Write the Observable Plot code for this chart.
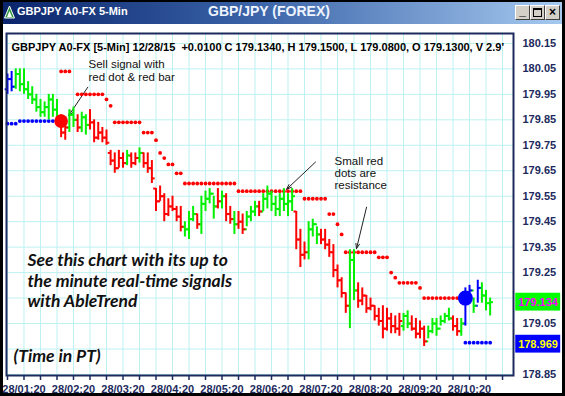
<!DOCTYPE html>
<html>
<head>
<meta charset="utf-8">
<script src="https://cdn.jsdelivr.net/npm/d3@7"></script>
<script src="https://cdn.jsdelivr.net/npm/@observablehq/plot@0.6"></script>
<style>
  html, body { margin: 0; padding: 0; background: #fff; }
  #win { position: relative; width: 565px; height: 396px; overflow: hidden; background: #fff; font-family: Arial, "Liberation Sans", sans-serif; }
  #chart { position: absolute; left: 0; top: 0; }
  #titlebar { position: absolute; left: 0; top: 0; width: 565px; height: 24px; background: linear-gradient(to right, #0a246a 0%, #3a63a8 45%, #a6caf0 100%); }
  #titlebar .t1 { position: absolute; left: 17px; top: 5px; color: #fff; font: bold 11px Arial, "Liberation Sans", sans-serif; white-space: nowrap; }
  #titlebar .t2 { position: absolute; left: 208px; top: 3px; color: #eef4ff; font: bold 14px Arial, "Liberation Sans", sans-serif; white-space: nowrap; }
  #titlebar .btn { position: absolute; top: 5px; width: 15px; height: 15px; background: #d4d0c8; border-top: 1px solid #fff; border-left: 1px solid #fff; border-right: 1px solid #404040; border-bottom: 1px solid #404040; box-sizing: border-box; color: #000; font: bold 12px Arial, "Liberation Sans", sans-serif; text-align: center; line-height: 12px; }
  #border { position: absolute; left: 0; top: 0; width: 565px; height: 396px; border: 3px solid #000; border-top-width: 2px; box-sizing: border-box; pointer-events: none; }
</style>
</head>
<body>
<div id="win">
  <div id="chart"></div>
  <div id="titlebar">
    <svg style="position:absolute;left:4px;top:5px" width="11" height="14"><polygon points="5.5,1 10.5,13 0.5,13" fill="#2e9a3a" stroke="#fff" stroke-width="1"/><polygon points="5.5,6 8,12 3,12" fill="#fff"/></svg>
    <div class="t1">GBPJPY A0-FX 5-Min</div>
    <div class="t2">GBP/JPY (FOREX)</div>
    <div class="btn" style="left:515px;line-height:10px">_</div>
    <div class="btn" style="left:530px"><div style="width:7px;height:6px;border:1px solid #000;border-top-width:2px;margin:2px auto 0"></div></div>
    <div class="btn" style="left:545px">×</div>
  </div>
  <div id="border"></div>
</div>
<script>
// ---- data ----
const startMinute = 60;      // 28/01:00, 5-minute bars
const barMinutes = 5;
const high = [180.03,180.04,180.05,180.05,180.05,180.00,179.98,179.95,179.93,179.92,179.95,179.95,179.93,179.87,179.85,179.89,179.90,179.87,179.88,179.87,
  179.89,179.85,179.84,179.82,179.81,179.73,179.72,179.73,179.72,179.73,179.72,179.72,179.74,179.72,179.72,179.69,179.58,179.59,179.56,179.54,
  179.55,179.51,179.51,179.45,179.49,179.51,179.48,179.55,179.57,179.58,179.55,179.58,179.57,179.56,179.51,179.49,179.49,179.48,179.49,179.51,
  179.53,179.53,179.56,179.59,179.57,179.55,179.56,179.58,179.56,179.58,179.49,179.42,179.37,179.45,179.46,179.43,179.42,179.42,179.38,179.36,
  179.28,179.23,179.17,179.34,179.34,179.21,179.19,179.16,179.15,179.12,179.11,179.12,179.11,179.09,179.08,179.09,179.09,179.10,179.08,179.07,
  179.06,179.04,179.04,179.07,179.07,179.08,179.09,179.11,179.08,179.07,179.07,179.19,179.20,179.15,179.22,179.21,179.18,179.15];
const low = [179.95,179.96,179.97,179.96,179.95,179.93,179.91,179.88,179.86,179.86,179.85,179.86,179.84,179.78,179.77,179.80,179.82,179.80,179.80,179.79,
  179.81,179.76,179.77,179.76,179.75,179.67,179.64,179.66,179.66,179.67,179.66,179.67,179.68,179.66,179.64,179.60,179.49,179.53,179.45,179.47,
  179.49,179.45,179.41,179.39,179.38,179.45,179.42,179.40,179.49,179.52,179.46,179.50,179.50,179.45,179.44,179.40,179.42,179.40,179.43,179.45,
  179.47,179.47,179.49,179.50,179.49,179.47,179.47,179.49,179.47,179.49,179.34,179.27,179.30,179.30,179.39,179.36,179.36,179.34,179.31,179.23,
  179.19,179.15,179.09,179.03,179.14,179.11,179.12,179.09,179.10,179.06,179.04,178.99,179.02,179.01,179.01,179.00,179.02,179.03,179.02,178.99,
  178.99,178.96,178.99,179.01,179.00,179.04,179.05,179.06,179.02,179.00,179.00,179.04,179.14,179.09,179.13,179.13,179.10,179.08];
const open = [179.97,180.01,179.98,180.03,179.99,179.97,179.95,179.93,179.90,179.88,179.90,179.93,179.89,179.86,179.80,179.82,179.87,179.85,179.82,179.86,
  179.83,179.84,179.78,179.80,179.78,179.72,179.69,179.66,179.70,179.68,179.71,179.68,179.70,179.72,179.68,179.66,179.58,179.53,179.55,179.48,
  179.51,179.50,179.47,179.43,179.42,179.46,179.48,179.44,179.52,179.54,179.56,179.51,179.53,179.55,179.48,179.46,179.44,179.45,179.42,179.47,
  179.49,179.51,179.49,179.54,179.56,179.52,179.50,179.54,179.52,179.53,179.49,179.38,179.32,179.33,179.42,179.44,179.40,179.38,179.36,179.33,
  179.26,179.22,179.17,179.12,179.30,179.18,179.14,179.16,179.11,179.12,179.08,179.06,179.03,179.07,179.04,179.03,179.04,179.08,179.05,179.03,
  179.01,179.03,178.98,179.02,179.05,179.03,179.06,179.08,179.07,179.04,179.02,179.05,179.15,179.18,179.12,179.19,179.16,179.13];
const close = [180.01,179.98,180.03,179.99,179.97,179.95,179.93,179.90,179.88,179.90,179.93,179.89,179.86,179.80,179.82,179.87,179.85,179.82,179.86,179.83,
  179.84,179.78,179.80,179.78,179.76,179.69,179.66,179.70,179.68,179.71,179.68,179.70,179.72,179.68,179.66,179.62,179.53,179.55,179.48,179.51,
  179.50,179.47,179.43,179.42,179.46,179.48,179.44,179.52,179.54,179.56,179.51,179.53,179.55,179.48,179.46,179.44,179.45,179.42,179.47,179.49,
  179.51,179.49,179.54,179.56,179.52,179.50,179.54,179.52,179.53,179.55,179.38,179.32,179.33,179.42,179.44,179.40,179.38,179.36,179.33,179.26,
  179.22,179.17,179.12,179.30,179.18,179.14,179.16,179.11,179.12,179.08,179.06,179.03,179.07,179.04,179.03,179.06,179.08,179.05,179.03,179.01,
  179.03,178.98,179.02,179.05,179.03,179.06,179.08,179.07,179.04,179.02,179.05,179.15,179.18,179.12,179.19,179.16,179.13,179.134];
// trend colour of each bar: b = neutral (blue), g = up (green), r = down (red)
const trend = ("bbggggggggggg" + "rrggrgg" + "rrrrrrrrrgrrgrr" + "rrrrrrrrgggrggggrgrrgrr" + "gggrgggggggg" + "rrrgggrrrrrrrgg" + "rrrrrrrrrrrgg" + "rrrrggggggrrg" + "bbgbggg").split("");
// resistance (small red dots): [first bar, last bar, price]
const resistanceRuns = [[13,15,180.04],[17,23,179.95],[24,24,179.93],[25,25,179.905],[26,32,179.84],[33,35,179.80],[36,36,179.77],[37,37,179.72],
  [38,38,179.70],[39,40,179.675],[41,42,179.64],[43,55,179.60],[56,71,179.57],[72,77,179.54],[78,79,179.48],[80,80,179.44],[81,81,179.40],
  [82,89,179.33],[90,92,179.31],[93,93,179.25],[94,94,179.23],[95,99,179.21],[100,100,179.19],[101,110,179.15]];
// support (small blue dots)
const supportRuns = [[0,2,179.835],[3,12,179.845],[111,117,178.975]];
// signals (big dots)
const sellSignal = [{bar: 13, price: 179.845}];
const buySignal = [{bar: 111, price: 179.15}];
// axis
const gridPrices = [180.15,180.05,179.95,179.85,179.75,179.65,179.55,179.45,179.35,179.25,179.15,179.05,178.95,178.85];
const axisPrices = [180.15,180.05,179.95,179.85,179.75,179.65,179.55,179.45,179.35,179.25,179.05,178.85];
const timeLabels = ["28/01:20","28/02:20","28/03:20","28/04:20","28/05:20","28/06:20","28/07:20","28/08:20","28/09:20","28/10:20"];
const labelMinutes = [80,140,200,260,320,380,440,500,560,620];
// last price tags
const tagValues = [179.134, 178.969];
// texts
const headerText = "GBPJPY A0-FX [5-Min] 12/28/15  +0.0100 C 179.1340, H 179.1500, L 179.0800, O 179.1300, V 2.9'";
const notes = [
  {t: 158.2, p: 180.068, text: "Sell signal with"},
  {t: 158.2, p: 180.016, text: "red dot & red bar"},
  {t: 456.4, p: 179.687, text: "Small red"},
  {t: 456.4, p: 179.639, text: "dots are"},
  {t: 456.4, p: 179.592, text: "resistance"}
];
const promo = [
  {t: 84.2, p: 179.298, text: "See this chart with its up to"},
  {t: 84.2, p: 179.215, text: "the minute real-time signals"},
  {t: 84.2, p: 179.137, text: "with AbleTrend"},
  {t: 67.3, p: 178.921, text: "(Time in PT)"}
];
const arrows = [
  {t1: 157.3, p1: 179.978, t2: 134.3, p2: 179.867},
  {t1: 433.3, p1: 179.684, t2: 398.2, p2: 179.577},
  {t1: 495.2, p1: 179.507, t2: 483.0, p2: 179.344}
];

// ---- build ----
const barTime = i => startMinute + barMinutes * i;
const bars = high.map((h, i) => ({t: barTime(i), hi: h, lo: low[i], op: open[i], cl: close[i], c: trend[i]}));
const expand = runs => runs.flatMap(([a, b, p]) => d3.range(a, b + 1).map(i => ({t: barTime(i), p})));
const resistance = expand(resistanceRuns);
const support = expand(supportRuns);
const gridTimes = d3.range(60, 661, 20);
const labelOf = new Map(labelMinutes.map((m, i) => [m, timeLabels[i]]));

const colors = {b: "#0000ff", g: "#00f000", r: "#ff0000"};
const navy = "#1c2a5e";
const grid = "#bdf1f1";
const font = "Arial, 'Liberation Sans', sans-serif";
const tick = 3.4; // minutes

const chart = Plot.plot({
  width: 565, height: 396,
  marginTop: 33, marginRight: 52, marginBottom: 21, marginLeft: 6,
  x: {domain: [58.8, 673.3], axis: null},
  y: {domain: [178.846, 180.189], axis: null},
  style: {background: "transparent", fontFamily: font, overflow: "visible"},
  marks: [
    Plot.ruleY(gridPrices, {stroke: grid, strokeWidth: 1}),
    Plot.ruleX(gridTimes, {stroke: grid, strokeWidth: 1}),
    Plot.text([headerText], {frameAnchor: "top-left", dx: 5, dy: 10, textAnchor: "start", fontSize: 11, fontWeight: "bold", fill: "#000", fontFamily: font}),
    Plot.text(notes, {x: "t", y: "p", text: "text", textAnchor: "start", fontSize: 11.5, fill: "#111", fontFamily: font}),
    Plot.text(promo, {x: "t", y: "p", text: "text", textAnchor: "start", fontSize: 17.5, fontWeight: "bold", fontStyle: "italic", fill: "#111", fontFamily: "Lato, 'Open Sans', sans-serif"}),
    Plot.arrow(arrows, {x1: "t1", y1: "p1", x2: "t2", y2: "p2", stroke: "#222", strokeWidth: 1, headLength: 8, headAngle: 40}),
    Plot.dot(support, {x: "t", y: "p", r: 1.9, fill: colors.b}),
    Plot.dot(resistance, {x: "t", y: "p", r: 1.9, fill: colors.r}),
    Plot.ruleX(bars, {x: "t", y1: "lo", y2: "hi", stroke: d => colors[d.c], strokeWidth: 2}),
    Plot.link(bars, {x1: d => d.t - tick, x2: "t", y1: "op", y2: "op", stroke: d => colors[d.c], strokeWidth: 2}),
    Plot.link(bars, {x1: "t", x2: d => d.t + tick, y1: "cl", y2: "cl", stroke: d => colors[d.c], strokeWidth: 2}),
    Plot.dot(sellSignal, {x: d => barTime(d.bar), y: "price", r: 6.8, fill: colors.r}),
    Plot.dot(buySignal, {x: d => barTime(d.bar), y: "price", r: 7.5, fill: colors.b}),
    Plot.frame({stroke: navy, strokeWidth: 2}),
    Plot.axisY({anchor: "right", ticks: axisPrices, tickSize: 0, tickPadding: 9, tickFormat: d3.format(".2f"), fontSize: 11, fontWeight: "bold", color: navy, fontFamily: font}),
    Plot.axisX({anchor: "bottom", ticks: gridTimes, tickSize: 5, tickPadding: 5, strokeWidth: 1.5, tickFormat: d => labelOf.get(d) ?? "", fontSize: 11, fontWeight: "bold", color: navy, fontFamily: font}),
    Plot.rect(tagValues, {x1: 676, x2: 730.5, y1: d => d - 0.035, y2: d => d + 0.035, fill: (d, i) => ["#00ff00", "#0000ff"][i]}),
    Plot.text(tagValues, {x: 703, y: d => d, text: d => d3.format(".3f")(d), fontSize: 11, fontWeight: "bold", fill: (d, i) => ["#ff00ff", "#ffff00"][i], fontFamily: font})
  ]
});
document.getElementById("chart").appendChild(chart);
</script>
</body>
</html>
